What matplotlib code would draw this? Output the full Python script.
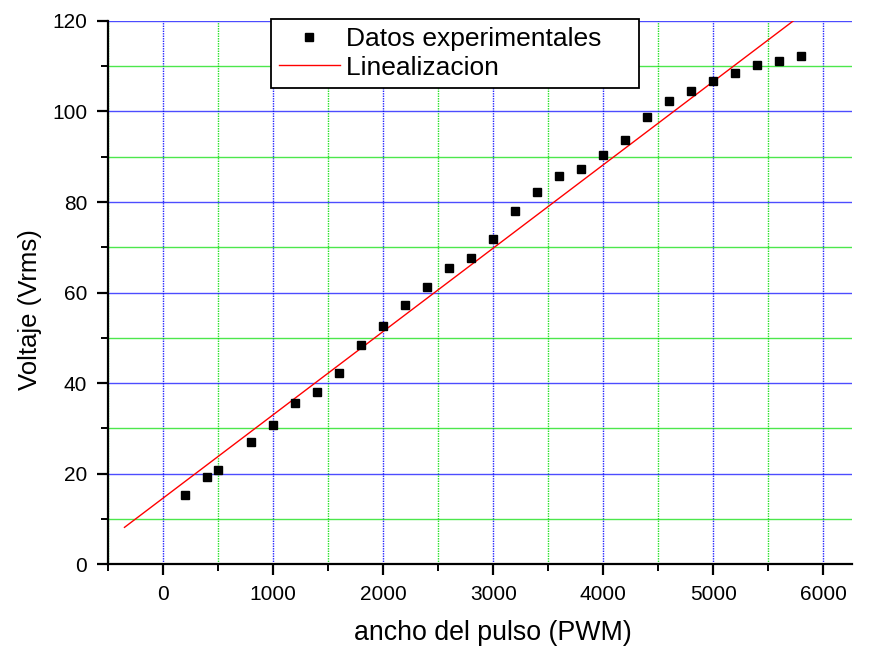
import numpy as np
import matplotlib
matplotlib.use("Agg")
import matplotlib.pyplot as plt
from matplotlib.ticker import MultipleLocator

plt.rcParams['font.family'] = ['Liberation Sans', 'DejaVu Sans']

# Measured pulse width vs RMS voltage
pwm = [200, 400, 500, 800, 1000, 1200, 1400, 1600, 1800, 2000, 2200, 2400,
       2600, 2800, 3000, 3200, 3400, 3600, 3800, 4000, 4200, 4400, 4600,
       4800, 5000, 5200, 5400, 5600, 5800]
vrms = [15.3, 19.2, 20.8, 27.0, 30.8, 35.5, 38.0, 42.2, 48.5, 52.5, 57.2,
        61.2, 65.5, 67.7, 71.8, 78.0, 82.3, 85.8, 87.2, 90.3, 93.8, 98.8,
        102.3, 104.5, 106.7, 108.5, 110.2, 111.2, 112.2]

# Linear fit parameters and the span over which the fit line is drawn
fit_slope = 0.01842
fit_intercept = 14.55
fit_span = [-350, 6200]

fig = plt.figure(figsize=(8.7, 6.46), dpi=100)
ax = fig.add_axes([0.1241, 0.1269, 0.8553, 0.8406])

ax.set_xlim(-500, 6260)
ax.set_ylim(0, 120)

ax.xaxis.set_major_locator(MultipleLocator(1000))
ax.xaxis.set_minor_locator(MultipleLocator(500))
ax.yaxis.set_major_locator(MultipleLocator(20))
ax.yaxis.set_minor_locator(MultipleLocator(10))

# Grid: blue on major ticks, green on minor; vertical lines dotted
ax.grid(True, which='major', axis='y', color='#0000ff', lw=1.0, alpha=0.7)
ax.grid(True, which='minor', axis='y', color='#00dd00', lw=1.0, alpha=0.7)
ax.grid(True, which='major', axis='x', color='#0000ff', lw=1.0,
        linestyle=(0, (1, 0.8)), alpha=0.85)
ax.grid(True, which='minor', axis='x', color='#00dd00', lw=1.0,
        linestyle=(0, (1, 0.8)), alpha=0.85)
ax.set_axisbelow(True)

for s in ('top', 'right'):
    ax.spines[s].set_visible(False)
for s in ('left', 'bottom'):
    ax.spines[s].set_linewidth(1.6)

ax.tick_params(which='major', direction='out', length=8, width=1.6,
               labelsize=15, pad=7)
ax.tick_params(which='minor', direction='out', length=5, width=1.4)

xf = np.array(fit_span, dtype=float)
ax.plot(xf, fit_slope * xf + fit_intercept, color='#ff0000', lw=1.0,
        label='Linealizacion', zorder=3)
ax.plot(pwm, vrms, linestyle='none', marker='s', markersize=5.5,
        color='black', label='Datos experimentales', zorder=4)

ax.set_xlabel('ancho del pulso (PWM)', fontsize=19.3)
ax.xaxis.set_label_coords(0.517, -0.104)
ax.set_ylabel('Voltaje (Vrms)', fontsize=18.5)
ax.yaxis.set_label_coords(-0.089, 0.468)

handles, labels = ax.get_legend_handles_labels()
# trailing spaces widen the legend box on the right
labels = [lab + '    ' for lab in labels]
leg = ax.legend(handles[::-1], labels[::-1], loc='upper left',
                bbox_to_anchor=(271 / 870, 1 - 19 / 646),
                bbox_transform=fig.transFigure, fontsize=19,
                frameon=True, fancybox=False, framealpha=1,
                edgecolor='black', borderpad=0.3, labelspacing=0.18,
                handlelength=2.3, handletextpad=0.25, borderaxespad=0)
leg.get_frame().set_linewidth(1.3)

fig.savefig('out.png', dpi=100)
